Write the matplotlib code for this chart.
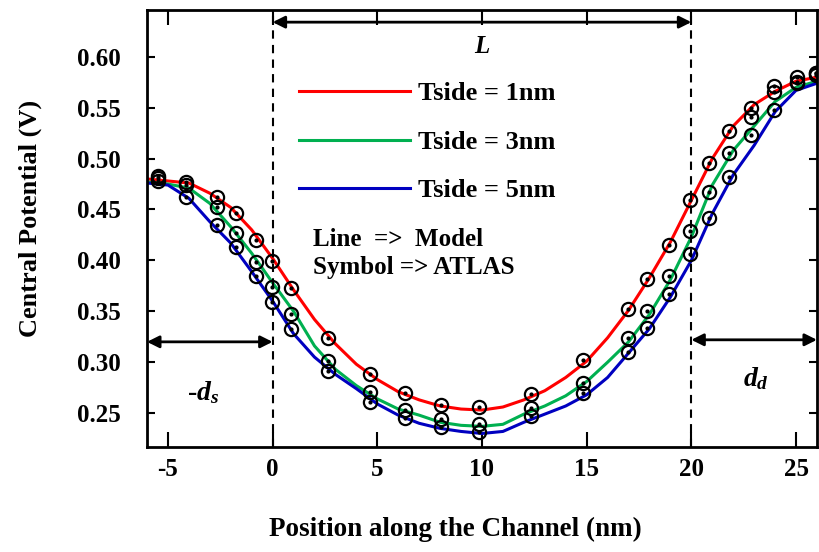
import numpy as np
import matplotlib
matplotlib.use("Agg")
import matplotlib.pyplot as plt

plt.rcParams["font.family"] = ["Liberation Serif", "DejaVu Serif"]
plt.rcParams["font.weight"] = "bold"
plt.rcParams["axes.labelweight"] = "bold"
plt.rcParams["axes.unicode_minus"] = False
plt.rcParams["mathtext.fontset"] = "custom"
plt.rcParams["mathtext.it"] = "Liberation Serif:italic:bold"
plt.rcParams["mathtext.rm"] = "Liberation Serif:bold"

# model curves (lines)
x_model = np.arange(-6, 27, 1)
model_1nm = [0.480, 0.478, 0.476, 0.466, 0.452, 0.430, 0.402, 0.371, 0.342, 0.318, 0.298,
             0.283, 0.271, 0.263, 0.257, 0.254, 0.253, 0.256, 0.263, 0.272, 0.285, 0.301,
             0.324, 0.351, 0.383, 0.418, 0.459, 0.500, 0.532, 0.553, 0.566, 0.576, 0.580]
model_3nm = [0.477, 0.475, 0.471, 0.456, 0.433, 0.407, 0.378, 0.350, 0.316, 0.293, 0.277,
             0.264, 0.254, 0.248, 0.241, 0.238, 0.237, 0.239, 0.249, 0.257, 0.267, 0.281,
             0.300, 0.320, 0.347, 0.381, 0.423, 0.474, 0.508, 0.532, 0.556, 0.570, 0.576]
model_5nm = [0.476, 0.474, 0.461, 0.438, 0.417, 0.389, 0.360, 0.328, 0.305, 0.288, 0.274,
             0.259, 0.248, 0.240, 0.235, 0.232, 0.230, 0.232, 0.241, 0.249, 0.257, 0.268,
             0.285, 0.309, 0.333, 0.364, 0.400, 0.446, 0.484, 0.513, 0.546, 0.567, 0.574]

# ATLAS simulation (symbols)
x_atlas = [-5.46, -4.13, -2.65, -1.74, -0.79, -0.02, 0.88, 2.65, 4.65, 6.32, 8.04, 9.85,
           12.33, 14.81, 16.96, 17.87, 18.92, 19.92, 20.82, 21.78, 22.83, 23.93, 25.07, 25.94]
atlas_1nm = [0.483, 0.477, 0.462, 0.447, 0.420, 0.399, 0.373, 0.324, 0.288, 0.270, 0.258, 0.256,
             0.269, 0.302, 0.352, 0.382, 0.415, 0.459, 0.496, 0.527, 0.550, 0.571, 0.580, 0.584]
atlas_3nm = [0.481, 0.474, 0.452, 0.427, 0.398, 0.374, 0.347, 0.301, 0.271, 0.253, 0.244, 0.239,
             0.255, 0.280, 0.324, 0.350, 0.385, 0.429, 0.467, 0.505, 0.541, 0.565, 0.574, 0.582]
atlas_5nm = [0.478, 0.462, 0.435, 0.413, 0.385, 0.359, 0.333, 0.291, 0.261, 0.245, 0.236, 0.231,
             0.247, 0.270, 0.310, 0.334, 0.367, 0.406, 0.442, 0.482, 0.523, 0.548, 0.575, 0.584]

labels = ["Tside = 1nm", "Tside = 3nm", "Tside = 5nm"]
colors = ["#ff0000", "#00b050", "#0000c0"]
models = [model_1nm, model_3nm, model_5nm]
atlas = [atlas_1nm, atlas_3nm, atlas_5nm]

fig = plt.figure(figsize=(8.19, 5.52), dpi=100)
ax = fig.add_axes([0.1795, 0.19, 0.818, 0.792])

handles = []
for m, c, lab in zip(models, colors, labels):
    (h,) = ax.plot(x_model, m, "-", color=c, lw=2.2, label=lab, zorder=2)
    handles.append(h)
for a in atlas:
    ax.plot(x_atlas, a, "o", ms=9.5, mfc="none", mec="k", mew=1.6, zorder=3)
    ax.plot(x_atlas, a, "o", ms=2, color="k", zorder=4)

ax.axvline(0, color="k", ls="--", lw=1.5, dashes=(4, 3))
ax.axvline(20, color="k", ls="--", lw=1.5, dashes=(4, 3))

arrow = dict(arrowstyle="<|-|>", color="k", lw=2, mutation_scale=18, shrinkA=0, shrinkB=0)
ax.annotate("", xy=(0, 0.634), xytext=(20, 0.634), arrowprops=arrow)
ax.annotate("", xy=(-6, 0.320), xytext=(0, 0.320), arrowprops=arrow)
ax.annotate("", xy=(20, 0.322), xytext=(26, 0.322), arrowprops=arrow)
ax.text(10, 0.610, "$L$", ha="center", va="center", fontsize=18)
ax.text(-3.3, 0.270, "-$d_s$", ha="center", va="center", fontsize=20)
ax.text(23.1, 0.284, "$d_d$", ha="center", va="center", fontsize=20)

ax.legend(handles=handles, loc="upper left", bbox_to_anchor=(0.192, 0.89), frameon=False,
          handlelength=4.2, handletextpad=0.3, labelspacing=0.95, fontsize=19)
ax.text(0.248, 0.474, "Line  =>  Model", transform=ax.transAxes, fontsize=18, va="center")
ax.text(0.248, 0.41, "Symbol => ATLAS", transform=ax.transAxes, fontsize=18, va="center")

ax.set_xlim(-6, 26)
ax.set_ylim(0.2166, 0.646)
ax.set_xticks([-5, 0, 5, 10, 15, 20, 25])
ax.set_yticks([0.25, 0.30, 0.35, 0.40, 0.45, 0.50, 0.55, 0.60])
ax.set_yticklabels(["%.2f" % v for v in ax.get_yticks()])
ax.tick_params(axis="x", direction="in", top=True, length=11, width=1.5, labelsize=18, pad=8)
ax.tick_params(axis="y", direction="in", right=True, length=6, width=1.5, labelsize=18, pad=19)
for s in ax.spines.values():
    s.set_linewidth(2)

ax.set_xlabel("Position along the Channel (nm)", fontsize=19.5)
ax.set_ylabel("Central Potential (V)", fontsize=19)
ax.xaxis.set_label_coords(0.46, -0.16)
ax.yaxis.set_label_coords(-0.156, 0.524)

fig.savefig("out.png", dpi=100)
